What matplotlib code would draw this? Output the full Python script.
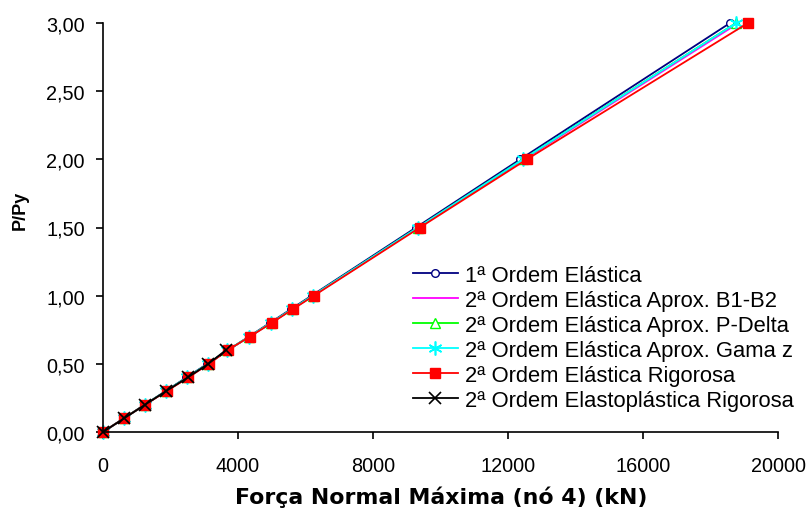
import matplotlib
matplotlib.use("Agg")
import matplotlib.pyplot as plt
from matplotlib.ticker import FixedLocator, FixedFormatter

# Load ratio P/Py at each analysis step
load_levels = [0.0, 0.1, 0.2, 0.3, 0.4, 0.5, 0.6, 0.7, 0.8, 0.9, 1.0, 1.5, 2.0, 3.0]
load_levels_ep = [0.0, 0.1, 0.2, 0.3, 0.4, 0.5, 0.6]

# Maximum normal force at node 4 (kN) for each analysis type
first_order = [0, 618, 1236, 1855, 2472, 3090, 3705, 4325, 4945, 5562, 6180, 9275, 12360, 18580]
b1_b2 = [0, 620, 1242, 1868, 2500, 3118, 3690, 4345, 4980, 5605, 6225, 9350, 12480, 18830]
p_delta = [0, 620, 1240, 1865, 2495, 3112, 3688, 4340, 4975, 5598, 6215, 9335, 12440, 18755]
gama_z = [0, 620, 1240, 1865, 2495, 3112, 3688, 4340, 4975, 5598, 6215, 9335, 12440, 18760]
rigorous = [0, 620, 1245, 1886, 2530, 3140, 3690, 4355, 4998, 5620, 6250, 9390, 12560, 19110]
elastoplastic = [0, 622, 1243, 1870, 2510, 3120, 3640]

series_labels = [
    "1ª Ordem Elástica",
    "2ª Ordem Elástica Aprox. B1-B2",
    "2ª Ordem Elástica Aprox. P-Delta",
    "2ª Ordem Elástica Aprox. Gama z",
    "2ª Ordem Elástica Rigorosa",
    "2ª Ordem Elastoplástica Rigorosa",
]

x_ticks = [0, 4000, 8000, 12000, 16000, 20000]
x_tick_labels = ["0", "4000", "8000", "12000", "16000", "20000"]
y_ticks = [0.0, 0.5, 1.0, 1.5, 2.0, 2.5, 3.0]
y_tick_labels = ["0,00", "0,50", "1,00", "1,50", "2,00", "2,50", "3,00"]

plt.rcParams["font.family"] = ["Liberation Sans", "DejaVu Sans"]

fig = plt.figure(figsize=(8.1, 5.1), dpi=100)
W, H = 810, 510
ax = fig.add_axes([103 / W, 1 - 433 / H, (778 - 103) / W, (433 - 24) / H])

lw = 1.3
asterisk = (6, 2, 0)
ax.plot(first_order, load_levels, color="#000080", lw=lw, marker="o", ms=5.5,
        mfc="white", mec="#000080", mew=1.0, label=series_labels[0], clip_on=False)
ax.plot(b1_b2, load_levels, color="#FF00FF", lw=lw, label=series_labels[1], clip_on=False)
ax.plot(p_delta, load_levels, color="#00FF00", lw=lw, marker="^", ms=7.5,
        mfc="white", mec="#00FF00", mew=1.0, label=series_labels[2], clip_on=False)
ax.plot(gama_z, load_levels, color="#00FFFF", lw=lw, marker=asterisk, ms=10,
        mec="#00FFFF", mew=1.2, label=series_labels[3], clip_on=False)
ax.plot(rigorous, load_levels, color="#FF0000", lw=lw, marker="s", ms=6.5,
        mfc="#FF0000", mec="#FF0000", label=series_labels[4], clip_on=False)
ax.plot(elastoplastic, load_levels_ep, color="#000000", lw=lw, marker="x", ms=9,
        mec="#000000", mew=1.2, label=series_labels[5], clip_on=False)

ax.set_xlim(0, 20000)
ax.set_ylim(0, 3.0)
ax.xaxis.set_major_locator(FixedLocator(x_ticks))
ax.xaxis.set_major_formatter(FixedFormatter(x_tick_labels))
ax.yaxis.set_major_locator(FixedLocator(y_ticks))
ax.yaxis.set_major_formatter(FixedFormatter(y_tick_labels))

for side in ("top", "right"):
    ax.spines[side].set_visible(False)
for side in ("left", "bottom"):
    ax.spines[side].set_linewidth(1.2)
ax.tick_params(axis="both", direction="out", length=5, width=1.2, labelsize=14.3)
ax.tick_params(axis="y", pad=8)
ax.tick_params(axis="x", pad=12)

ax.set_xlabel("Força Normal Máxima (nó 4) (kN)", fontsize=15.8, fontweight="bold",
              family=["DejaVu Sans"])
ax.xaxis.label.set_va("center")
ax.xaxis.set_label_coords((441 - 103) / 675, (433 - 497) / 409)
ax.set_ylabel("P/Py", fontsize=13, fontweight="bold")
ax.yaxis.label.set_va("center")
ax.yaxis.set_label_coords((20 - 103) / 675, (433 - 210) / 409)

ax.legend(loc="upper left", bbox_to_anchor=(413 / W, 1 - 266 / H),
          bbox_transform=fig.transFigure, frameon=False, fontsize=15.8,
          handlelength=2.05, handletextpad=0.3, labelspacing=0.18, borderpad=0,
          borderaxespad=0)

fig.savefig("out.png", dpi=100)
